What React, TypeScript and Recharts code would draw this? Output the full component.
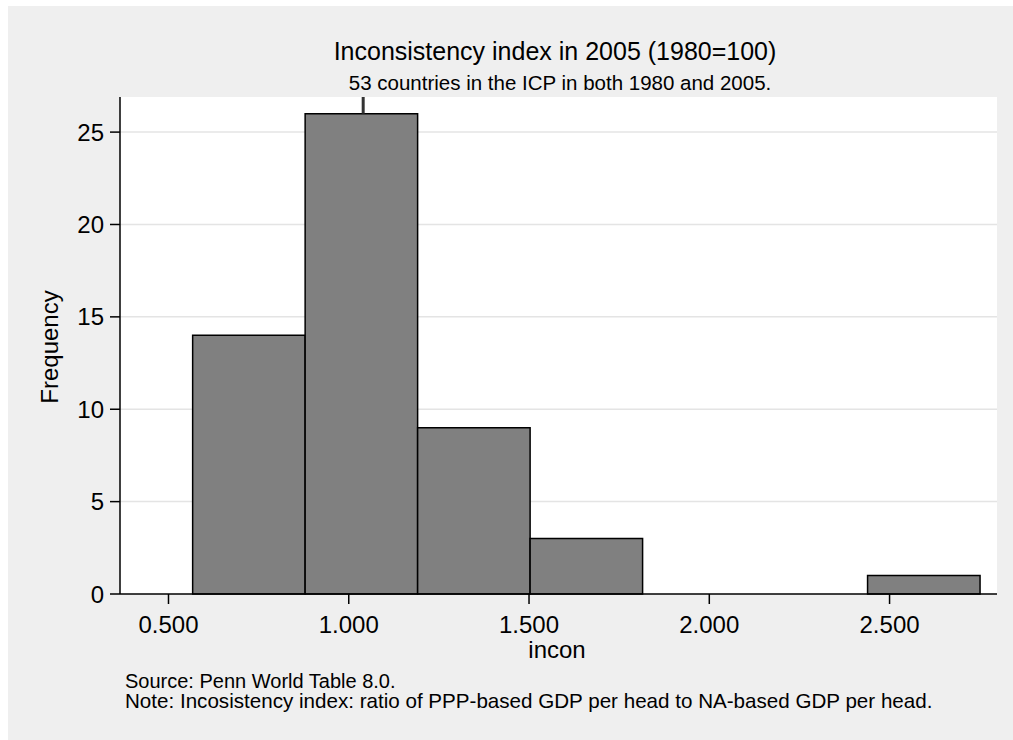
import React from 'react';
import { ComposedChart, XAxis, YAxis, CartesianGrid, ReferenceArea, ReferenceLine, Line } from 'recharts';

// Histogram bins (lower edge, upper edge) and frequencies
const binStart = [0.567, 0.879, 1.191, 1.503, 1.815, 2.127, 2.439];
const binEnd = [0.879, 1.191, 1.503, 1.815, 2.127, 2.439, 2.751];
const counts = [14, 26, 9, 3, 0, 0, 1];

const xTicks = [0.5, 1.0, 1.5, 2.0, 2.5];
const yTicks = [0, 5, 10, 15, 20, 25];
const xDomain = [0.3655, 2.798];
const yDomain = [0, 26.9];
const markerX = 1.04;

const titleText = 'Inconsistency index in 2005 (1980=100)';
const subtitleText = '53 countries in the ICP in both 1980 and 2005.';
const xLabel = 'incon';
const yLabel = 'Frequency';
const sourceText = 'Source: Penn World Table 8.0.';
const noteText = 'Note: Incosistency index: ratio of PPP-based GDP per head to NA-based GDP per head.';

const FONT = '"Liberation Sans", Arial, Helvetica, sans-serif';

const data = binStart.map((s, i) => ({ mid: (s + binEnd[i]) / 2, count: counts[i] }));

export default function App() {
  const W = 1005;
  const H = 734;
  return (
    <div style={{ position: 'absolute', left: 8, top: 6, width: W, height: H, background: '#efefef', overflow: 'hidden', fontFamily: FONT }}>
      <ComposedChart
        width={W}
        height={H}
        data={data}
        margin={{ top: 91, right: 16, left: 0, bottom: 0 }}
        style={{ fontFamily: FONT }}
      >
        <CartesianGrid vertical={false} horizontal={true} fill="#ffffff" stroke="#e4e4e4" strokeWidth={1.5} horizontalValues={[5, 10, 15, 20, 25]} />
        <XAxis
          type="number"
          dataKey="mid"
          domain={xDomain}
          ticks={xTicks}
          allowDataOverflow
          height={146}
          tickSize={10}
          tickMargin={12}
          tickFormatter={(v: number) => v.toFixed(3)}
          tick={{ fill: '#000', fontSize: 24, fontFamily: FONT }}
          axisLine={{ stroke: '#000', strokeWidth: 1.5 }}
          tickLine={{ stroke: '#000', strokeWidth: 1.5 }}
          interval={0}
        />
        <YAxis
          type="number"
          domain={yDomain}
          ticks={yTicks}
          allowDataOverflow
          width={112}
          tickSize={10}
          tickMargin={6}
          tick={{ fill: '#000', fontSize: 24, fontFamily: FONT }}
          axisLine={{ stroke: '#000', strokeWidth: 1.5 }}
          tickLine={{ stroke: '#000', strokeWidth: 1.5 }}
          interval={0}
        />
        <ReferenceLine
          segment={[{ x: markerX, y: 26 }, { x: markerX, y: yDomain[1] }]}
          stroke="#333333"
          strokeWidth={3}
          ifOverflow="visible"
        />
        {binStart.map((s, i) =>
          counts[i] > 0 ? (
            <ReferenceArea
              key={i}
              x1={s}
              x2={binEnd[i]}
              y1={0}
              y2={counts[i]}
              fill="#808080"
              fillOpacity={1}
              stroke="#000000"
              strokeWidth={1.5}
              strokeOpacity={1}
              ifOverflow="visible"
            />
          ) : null
        )}
        <Line dataKey="count" stroke="none" dot={false} activeDot={false} isAnimationActive={false} legendType="none" />
      </ComposedChart>
      <svg width={W} height={H} style={{ position: 'absolute', left: 0, top: 0, pointerEvents: 'none' }}>
        <g fontFamily={FONT} fill="#000">
          <text x={547} y={54} fontSize={25} textAnchor="middle">{titleText}</text>
          <text x={552} y={84} fontSize={20.5} textAnchor="middle">{subtitleText}</text>
          <text x={549} y={652} fontSize={24} textAnchor="middle">{xLabel}</text>
          <text x={50} y={341} fontSize={24} textAnchor="middle" transform="rotate(-90, 50, 341)">{yLabel}</text>
          <text x={117} y={682} fontSize={20}>{sourceText}</text>
          <text x={117} y={702} fontSize={20.6}>{noteText}</text>
        </g>
      </svg>
    </div>
  );
}
